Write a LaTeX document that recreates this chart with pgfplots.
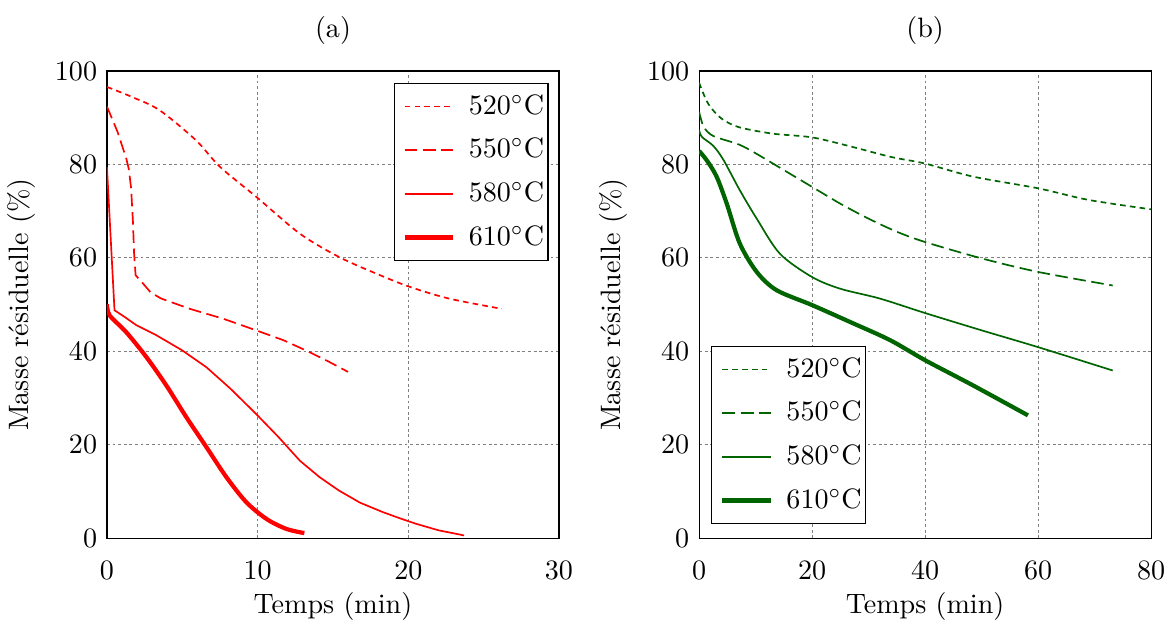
\documentclass[border=0pt]{standalone}
\usepackage{pgfplots}
\pgfplotsset{compat=1.18}
\usetikzlibrary{calc}
\definecolor{dgreen}{RGB}{0,100,0}
\pgfplotsset{
  myaxis/.style={
    scale only axis, width=161pt, height=166.4pt,
    ymin=0, ymax=100, ytick={0,20,40,60,80,100},
    grid=major, major grid style={gray, line width=0.3pt, dash pattern=on 1pt off 1pt},
    xlabel={Temps (min)}, ylabel={Masse r\'esiduelle (\%)},
    xticklabel shift=4.9pt,
    xlabel style={yshift=2.5pt},
    legend cell align=left,
    legend style={draw=black, font=\normalsize, row sep=3pt},
    tick style={draw=none},
  },
  s520/.style={dash pattern=on 2pt off 1.5pt, line width=0.6pt},
  s550/.style={dash pattern=on 4.5pt off 2pt, line width=0.6pt},
  s580/.style={line width=0.6pt},
  s610/.style={line width=1.5pt},
}
\newcommand{\lt}[1]{\kern3pt#1\kern-3.6pt\relax}
\begin{document}
\begin{tikzpicture}
\begin{axis}[myaxis, name=A, xmin=0, xmax=30, xtick={0,10,20,30}, title={(a)},
  legend style={at={(0.977,0.975)}, anchor=north east}]
\addplot[red, s520, smooth] coordinates {
(0,96.6) (1.7,94.4) (3.5,91.6) (5.9,85.2) (7.5,79.5) (9.9,73.1) (12.8,65.2) (15.4,60.2) (17.9,56.6) (20.1,53.8) (22.7,51.3) (26.2,49.1)};
\addplot[red, s550] coordinates {
(0,92.4) (0.7,87) (1.28,81.3) (1.45,79) (1.6,75) (1.72,68) (1.8,61) (1.9,56.3) (2.4,54.5) (2.9,52.6) (3.6,51.3) (5.5,49.1) (7.7,47) (9.9,44.5) (11.7,42.4) (13.2,40.2) (14.6,38) (16.0,35.6)};
\addplot[red, s580] coordinates {
(0,79.4) (0.5,48.8) (1.2,47.3) (1.95,45.6) (3.2,43.6) (5.0,40.2) (6.6,36.6) (8.2,32) (9.9,26.6) (11.4,21.6) (12.8,16.6) (14.1,13.1) (15.4,10.2) (16.8,7.6) (18.3,5.6) (19.5,4.2) (20.5,3.1) (22.0,1.7) (23.7,0.6)};
\addplot[red, s610, smooth] coordinates {
(0,50.1) (0.18,47.7) (1.28,44.1) (2.61,38.8) (3.94,32.7) (5.27,25.9) (6.6,19.5) (7.92,13.1) (9.25,7.7) (10.6,4.1) (11.9,2.0) (13.1,1.1)};
\legend{\lt{$520^\circ$C}, \lt{$550^\circ$C}, \lt{$580^\circ$C}, \lt{$610^\circ$C}}
\end{axis}
\begin{axis}[myaxis, name=B, xshift=210.9pt, xmin=0, xmax=80, xtick={0,20,40,60,80}, title={(b)},
  legend style={at={(0.027,0.03)}, anchor=south west}]
\addplot[dgreen, s520, smooth] coordinates {
(0,97.5) (1,94.5) (2,92.3) (4,89.8) (7,88) (13,86.6) (20,85.8) (27,83.8) (34,81.6) (40,80.2) (48.5,77.4) (60,74.9) (69,72.4) (80,70.4)};
\addplot[dgreen, s550, smooth] coordinates {
(0,91.3) (0.8,88.1) (2.5,86.1) (7,84.3) (10,82.4) (15,78.8) (20,75.2) (25,71.6) (30,68.4) (35,65.6) (40,63.4) (50,59.9) (60,57) (73.2,54.1)};
\addplot[dgreen, s580, smooth] coordinates {
(0,87.4) (0.5,85.9) (2.5,84) (4.3,81) (7.2,74.5) (10.2,68.4) (14.3,60.9) (20,55.9) (25,53.4) (32,51.3) (40,48.2) (50,44.5) (60,40.9) (73.2,35.9)};
\addplot[dgreen, s610, smooth] coordinates {
(0,82.9) (1.35,80.9) (3.1,77.4) (4.9,71.6) (7.2,63.1) (10.2,57) (13.7,53.1) (20,49.9) (26.7,46.3) (33.8,42.4) (40,38.1) (48.5,32.7) (58.2,26.3)};
\legend{\lt{$520^\circ$C}, \lt{$550^\circ$C}, \lt{$580^\circ$C}, \lt{$610^\circ$C}}
\end{axis}
\pgfresetboundingbox
\useasboundingbox ($(A.south west)+(-38.1pt,-31.4pt)$) rectangle ($(B.north east)+(5.3pt,25.3pt)$);
\end{tikzpicture}
\end{document}
